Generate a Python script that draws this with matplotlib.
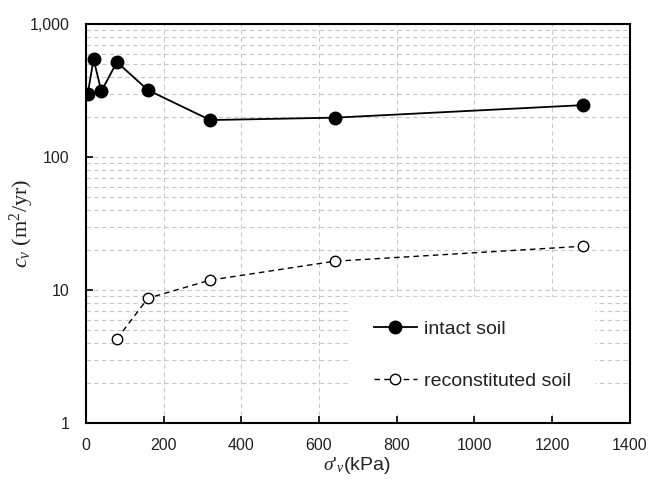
import matplotlib
matplotlib.use("Agg")
import matplotlib.pyplot as plt
from matplotlib.ticker import FixedLocator, FuncFormatter, LogLocator, NullFormatter

plt.rcParams["font.family"] = ["Liberation Sans", "DejaVu Sans"]
plt.rcParams["mathtext.fontset"] = "custom"
plt.rcParams["mathtext.it"] = "Liberation Serif:italic"
plt.rcParams["mathtext.rm"] = "Liberation Serif"

# data
intact_x = [5, 20, 40, 80, 160, 320, 640, 1280]
intact_cv = [300, 545, 313, 518, 319, 190, 198, 246]
recon_x = [80, 160, 320, 640, 1280]
recon_cv = [4.3, 8.7, 11.9, 16.5, 21.4]

fig = plt.figure(figsize=(6.5, 4.82), dpi=100)
ax = fig.add_axes([0.132, 0.122, 0.837, 0.828])

ax.plot(intact_x, intact_cv, "-", color="black", lw=1.3, marker="o",
        ms=9, mfc="black", mec="black", label="intact soil", zorder=3)
ax.plot(recon_x, recon_cv, "--", color="black", lw=1.0, marker="o",
        ms=7.5, mfc="white", mec="black", mew=1.0, label="reconstituted soil",
        dashes=(4, 3), zorder=3)

ax.set_yscale("log")
ax.set_xlim(0, 1400)
ax.set_ylim(1, 1000)
ax.set_xticks(range(0, 1401, 200))
ax.yaxis.set_major_locator(FixedLocator([1, 10, 100, 1000]))
ax.yaxis.set_major_formatter(FuncFormatter(lambda v, p: f"{v:,.0f}"))
ax.yaxis.set_minor_locator(LogLocator(base=10, subs=range(2, 10)))
ax.yaxis.set_minor_formatter(NullFormatter())

ax.grid(True, which="major", axis="x", ls=(0, (4, 3)), color="#c8c8c8", lw=0.8)
ax.grid(True, which="both", axis="y", ls=(0, (4, 3)), color="#c8c8c8", lw=0.8)
ax.set_axisbelow(True)

ax.tick_params(axis="both", which="major", direction="in", length=5,
               labelsize=11.5, width=1.2, labelcolor="#222222")
ax.tick_params(axis="x", which="major", pad=11)
ax.tick_params(axis="y", which="major", pad=12)
ax.tick_params(axis="y", which="minor", length=0)
for s in ax.spines.values():
    s.set_linewidth(1.5)

ax.set_ylabel(r"$c_v$ (m$^2$/yr)", fontsize=16, family="Liberation Serif",
              color="#222222")
ax.yaxis.set_label_coords(-0.092, 0.5)
ax.set_xlabel(r"$\sigma$'$_v$(kPa)", fontsize=14, color="#222222")
ax.xaxis.set_label_coords(0.498, -0.08)

leg = ax.legend(loc="lower right", bbox_to_anchor=(0.934, 0.025),
                fontsize=14, frameon=True, fancybox=False, edgecolor="white",
                framealpha=1, borderpad=1.2, labelspacing=1.75,
                handlelength=2.2, handletextpad=0.35, borderaxespad=0)
for t in leg.get_texts():
    t.set_color("#222222")

fig.savefig("out.png", dpi=100)
